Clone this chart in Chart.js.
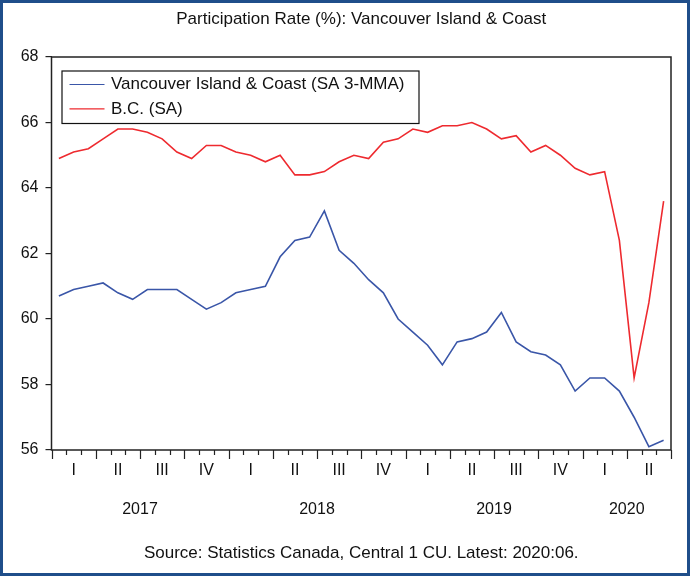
<!DOCTYPE html>
<html>
<head>
<meta charset="utf-8">
<script src="https://cdn.jsdelivr.net/npm/chart.js@4.4.1/dist/chart.umd.min.js"></script>
<style>
  html, body { margin: 0; padding: 0; background: #fff; }
  #wrap { position: relative; width: 690px; height: 576px; box-sizing: border-box; border: 3px solid #1f4e8a; }
  canvas { display: block; }
</style>
</head>
<body>
<div id="wrap"><canvas id="c" width="684" height="570"></canvas></div>
<script>
// ---- data ----
const months = [];
const years = [2017, 2018, 2019, 2020];
for (const yr of years) {
  for (let m = 1; m <= 12; m++) {
    if (yr === 2020 && m > 6) break;
    months.push(yr + ':' + String(m).padStart(2, '0'));
  }
}
const vicCoast = [60.7, 60.9, 61.0, 61.1, 60.8, 60.6, 60.9, 60.9, 60.9, 60.6, 60.3, 60.5,
                  60.8, 60.9, 61.0, 61.9, 62.4, 62.5, 63.3, 62.1, 61.7, 61.2, 60.8, 60.0,
                  59.6, 59.2, 58.6, 59.3, 59.4, 59.6, 60.2, 59.3, 59.0, 58.9, 58.6, 57.8,
                  58.2, 58.2, 57.8, 57.0, 56.1, 56.3];
const bc = [64.9, 65.1, 65.2, 65.5, 65.8, 65.8, 65.7, 65.5, 65.1, 64.9, 65.3, 65.3,
            65.1, 65.0, 64.8, 65.0, 64.4, 64.4, 64.5, 64.8, 65.0, 64.9, 65.4, 65.5,
            65.8, 65.7, 65.9, 65.9, 66.0, 65.8, 65.5, 65.6, 65.1, 65.3, 65.0, 64.6,
            64.4, 64.5, 62.4, 58.2, 60.5, 63.6];
const quarterLabels = ['I', 'II', 'III', 'IV'];
const yearLabels = ['2017', '2018', '2019', '2020'];
const yearCenters = [6, 18, 30, 39];   // month-boundary positions where year labels sit
const yTicks = [56, 58, 60, 62, 64, 66, 68];
const titleText = 'Participation Rate (%): Vancouver Island & Coast';
const sourceText = 'Source: Statistics Canada, Central 1 CU. Latest: 2020:06.';

const FONT = "'Liberation Sans', Arial, sans-serif";

// ---- plugins ----
const frameAndTicks = {
  id: 'frameAndTicks',
  afterDatasetsDraw(chart) {
    const { ctx, chartArea: a, scales } = chart;
    const x = scales.x;
    ctx.save();
    ctx.strokeStyle = '#222';
    ctx.lineWidth = 1.5;
    ctx.strokeRect(a.left, a.top, a.right - a.left, a.bottom - a.top);
    ctx.lineWidth = 1.2;
    ctx.beginPath();
    for (let i = 0; i <= months.length; i++) {
      const px = Math.round(x.getPixelForValue(i - 0.5)) + 0.5;
      const len = (i % 3 === 0) ? 9 : 5;
      ctx.moveTo(px, a.bottom);
      ctx.lineTo(px, a.bottom + len);
    }
    ctx.stroke();
    // legend box
    const lx = a.left + 10, ly = a.top + 13.5, lw = 357, lh = 52.5;
    ctx.fillStyle = '#fff';
    ctx.fillRect(lx, ly, lw, lh);
    ctx.lineWidth = 1.2;
    ctx.strokeStyle = '#111';
    ctx.strokeRect(lx + 0.5, ly + 0.5, lw, lh);
    ctx.font = '17px ' + FONT;
    ctx.textBaseline = 'middle';
    ctx.textAlign = 'left';
    chart.data.datasets.forEach((ds, k) => {
      const yy = ly + 14 + k * 24.4;
      ctx.strokeStyle = ds.borderColor;
      ctx.lineWidth = 1.2;
      ctx.beginPath();
      ctx.moveTo(lx + 8, yy);
      ctx.lineTo(lx + 43, yy);
      ctx.stroke();
      ctx.fillStyle = '#111';
      ctx.fillText(ds.label, lx + 49.5, yy);
    });
    // title and source, centred over the plot area
    const cx = (a.left + a.right) / 2;
    ctx.textAlign = 'center';
    ctx.fillStyle = '#111';
    ctx.font = '17px ' + FONT;
    ctx.fillText(titleText, cx, 16);
    ctx.fillText(sourceText, cx, 550);
    ctx.restore();
  }
};

new Chart(document.getElementById('c'), {
  type: 'line',
  data: {
    labels: months,
    datasets: [
      { label: 'Vancouver Island & Coast (SA 3-MMA)', data: vicCoast, borderColor: '#3a56a8', borderWidth: 1.6, pointRadius: 0, tension: 0, xAxisID: 'x' },
      { label: 'B.C. (SA)', data: bc, borderColor: '#ee2a2f', borderWidth: 1.6, pointRadius: 0, tension: 0, xAxisID: 'x' }
    ]
  },
  options: {
    responsive: false,
    animation: false,
    layout: { padding: { left: 0, right: 16, top: 54, bottom: 41 } },
    plugins: {
      legend: { display: false },
      tooltip: { enabled: false },
      title: { display: false },
      subtitle: { display: false }
    },
    scales: {
      x: {
        type: 'category',
        offset: true,
        grid: { display: false, drawTicks: false },
        border: { display: false },
        ticks: {
          autoSkip: false, maxRotation: 0, padding: 11,
          color: '#111', font: { family: FONT, size: 16 },
          callback: (v, i) => (i % 3 === 1 ? quarterLabels[Math.floor(i / 3) % 4] : '')
        },
        afterFit: (s) => { s.height = 38; }
      },
      x2: {
        type: 'linear',
        position: 'bottom',
        min: 0, max: months.length,
        grid: { display: false, drawTicks: false },
        border: { display: false },
        afterBuildTicks: (s) => { s.ticks = yearCenters.map(v => ({ value: v })); },
        ticks: {
          padding: 12, color: '#111', font: { family: FONT, size: 16 },
          callback: (v) => { const k = yearCenters.indexOf(v); return k >= 0 ? yearLabels[k] : ''; }
        },
        afterFit: (s) => { s.height = 44; }
      },
      y: {
        min: 56, max: 68,
        afterBuildTicks: (s) => { s.ticks = yTicks.map(v => ({ value: v })); },
        grid: { display: true, drawOnChartArea: false, drawTicks: true, tickLength: 6, color: '#222', lineWidth: 1.2 },
        border: { display: false },
        ticks: { padding: 7, color: '#111', font: { family: FONT, size: 16 } },
        afterFit: (s) => { s.width = 48.5; }
      }
    }
  },
  plugins: [frameAndTicks]
});
</script>
</body>
</html>
